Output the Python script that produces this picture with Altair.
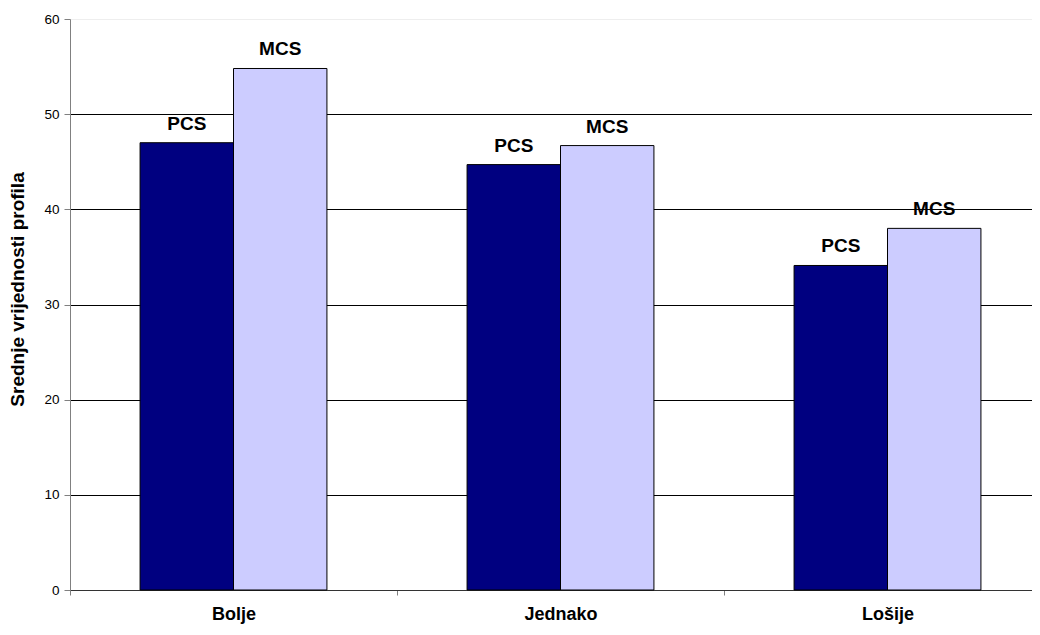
import altair as alt
import pandas as pd

categories = ["Bolje", "Jednako", "Lošije"]
series = ["PCS", "MCS"]
pcs_values = [47.0, 44.7, 34.1]
mcs_values = [54.8, 46.7, 38.0]
colors = ["#000080", "#CCCCFF"]

rows = []
for i, c in enumerate(categories):
    rows.append({"kat": c, "serija": "PCS", "vrijednost": pcs_values[i]})
    rows.append({"kat": c, "serija": "MCS", "vrijednost": mcs_values[i]})
df = pd.DataFrame(rows)

FONT = "Liberation Sans"

x = alt.X(
    "kat:N",
    sort=categories,
    title=None,
    scale=alt.Scale(paddingInner=0, paddingOuter=0, range=[0, 981]),
    axis=alt.Axis(
        labelAngle=0,
        labelFont=FONT,
        labelFontSize=18,
        labelFontWeight="bold",
        labelColor="black",
        labelPadding=10,
        tickBand="extent",
        tickColor="#808080",
        tickSize=5,
        domainColor="#333333",
        grid=False,
    ),
)
xoff = alt.XOffset("serija:N", sort=series, scale=alt.Scale(paddingInner=0, paddingOuter=0.75))
y = alt.Y(
    "vrijednost:Q",
    title="Srednje vrijednosti profila",
    scale=alt.Scale(domain=[0, 60], nice=False),
    axis=alt.Axis(
        values=[0, 10, 20, 30, 40, 50, 60],
        labelFont=FONT,
        labelFontSize=13.5,
        labelColor="black",
        labelPadding=5,
        tickColor="#808080",
        tickSize=6,
        domainColor="#808080",
        gridColor=alt.condition("datum.value == 60", alt.value("#eeeeee"), alt.value("black")),
        gridOpacity=1,
        titleFont=FONT,
        titleFontSize=19,
        titleFontWeight="bold",
        titleColor="black",
        titleAngle=270,
        titleAlign="center",
        titleBaseline="bottom",
        titleX=-43,
        titleY=270,
    ),
)

color = alt.Color(
    "serija:N",
    sort=series,
    scale=alt.Scale(domain=series, range=colors),
    legend=None,
)

bars = alt.Chart(df).mark_bar(stroke="black", strokeWidth=1).encode(
    x=x, xOffset=xoff, y=y, color=color
)
labels = alt.Chart(df).mark_text(
    font=FONT, fontSize=19, fontWeight="bold", color="black", dy=-13, baseline="alphabetic"
).encode(x=x, xOffset=xoff, y=y, text="serija:N")

chart = (
    alt.layer(bars, labels)
    .properties(
        width=962,
        height=571,
        autosize=alt.AutoSizeParams(type="none"),
        padding={"left": 62, "top": 11, "right": 0, "bottom": 37},
    )
    .configure_view(stroke=None)
    .configure(background="white")
)

chart.save("out.html", embed_options={"renderer": "svg", "actions": False})
